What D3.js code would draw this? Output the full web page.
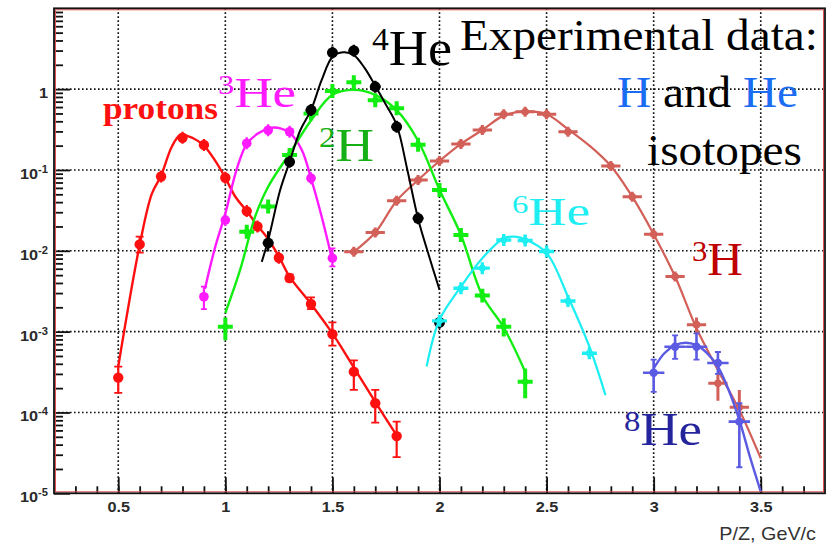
<!DOCTYPE html>
<html>
<head>
<meta charset="utf-8">
<script src="https://cdn.jsdelivr.net/npm/d3@7"></script>
<style>
  body { margin: 0; background: #fff; }
  svg { display: block; }
</style>
</head>
<body>
<svg id="chart" width="836" height="543"></svg>
<script>
// ---------------- axes ----------------
const xTicks = [0.5, 1, 1.5, 2, 2.5, 3, 3.5];
const xTickLabels = ["0.5", "1", "1.5", "2", "2.5", "3", "3.5"];
const yDecades = [1e-5, 1e-4, 1e-3, 1e-2, 1e-1, 1];
const yTickBase = ["10", "10", "10", "10", "10", "1"];
const yTickExp = ["-5", "-4", "-3", "-2", "-1", ""];
const xTitle = "P/Z, GeV/c";

// ---------------- measured points ----------------
// protons
const protonsX  = [0.5, 0.6, 0.7, 0.8, 0.9, 1.0, 1.1, 1.15, 1.25, 1.3, 1.4, 1.5, 1.6, 1.7, 1.8];
const protonsY  = [2.7e-4, 0.012, 0.083, 0.25, 0.204, 0.080, 0.031, 0.020, 0.0082, 0.0046, 0.0022, 9.3e-4, 3.2e-4, 1.3e-4, 5.1e-5];
const protonsLo = [1.75e-4, 0.0095, null, null, null, null, null, null, null, 0.0042, 1.9e-3, 6.7e-4, 1.9e-4, 7.5e-5, 2.8e-5];
const protonsHi = [3.7e-4, 0.015, null, null, null, null, null, null, null, 0.0051, 2.65e-3, 1.3e-3, 4.4e-4, 1.9e-4, 7.7e-5];
// 3He
const he3X  = [0.9, 1.0, 1.1, 1.2, 1.3, 1.4, 1.5];
const he3Y  = [0.0027, 0.024, 0.214, 0.31, 0.297, 0.079, 0.0081];
const he3Lo = [1.9e-3, null, null, null, null, null, 0.0064];
const he3Hi = [3.6e-3, null, null, null, null, null, 0.0107];
// 4He
const he4X  = [1.2, 1.3, 1.4, 1.5, 1.6, 1.7, 1.8, 1.9, 2.0];
const he4Y  = [0.0125, 0.126, 0.552, 2.83, 2.99, 1.07, 0.343, 0.0252, 0.0013];
const he4Lo = [0.0098, null, null, null, null, null, null, null, null];
const he4Hi = [0.0175, null, null, null, null, null, null, null, null];
// 2H
const h2X  = [1.0, 1.1, 1.2, 1.3, 1.4, 1.5, 1.6, 1.7, 1.8, 1.9, 2.0, 2.1, 2.2, 2.3, 2.4];
const h2Y  = [0.00115, 0.0172, 0.0352, 0.153, 0.5, 0.95, 1.22, 0.73, 0.58, 0.205, 0.0565, 0.0157, 0.0028, 0.00115, 2.4e-4];
const h2Lo = [7.8e-4, null, null, null, null, null, null, null, null, null, null, null, 0.0023, 8.7e-4, 1.5e-4];
const h2Hi = [1.5e-3, null, null, null, null, null, null, null, null, null, null, null, 0.0034, 1.46e-3, 3.5e-4];
// 3H
const h3X  = [1.6, 1.7, 1.8, 1.9, 2.0, 2.1, 2.2, 2.3, 2.4, 2.5, 2.6, 2.8, 2.9, 3.0, 3.1, 3.2, 3.3, 3.4];
const h3Y  = [0.0097, 0.0168, 0.0417, 0.075, 0.129, 0.21, 0.312, 0.49, 0.526, 0.49, 0.297, 0.112, 0.0467, 0.016, 0.0048, 0.00122, 2.3e-4, 1.16e-4];
const h3Lo = [null, null, null, null, null, null, null, null, null, null, null, null, null, null, null, 9.5e-4, 1.4e-4, 8.5e-5];
const h3Hi = [null, null, null, null, null, null, null, null, null, null, null, null, null, null, null, 1.5e-3, 3.0e-4, 1.9e-4];
// 6He
const he6X  = [2.0, 2.1, 2.2, 2.3, 2.4, 2.5, 2.6, 2.7];
const he6Y  = [0.00136, 0.00344, 0.0061, 0.0136, 0.0134, 0.0098, 0.00239, 5.4e-4];
const he6Lo = [null, null, null, null, null, null, null, null];
const he6Hi = [null, null, null, null, null, null, null, null];
// 8He
const he8X  = [3.0, 3.1, 3.2, 3.3, 3.4];
const he8Y  = [3.1e-4, 6.5e-4, 6.5e-4, 4.1e-4, 7.7e-5];
const he8Lo = [1.8e-4, 4.6e-4, 4.5e-4, 3.0e-4, 2.1e-5];
const he8Hi = [4.5e-4, 9.0e-4, 9.5e-4, 5.6e-4, 1.3e-4];

// ---------------- fitted curves ----------------
const protonsFitX = [0.5, 0.6, 0.657, 0.7, 0.75, 0.79, 0.85, 0.9, 0.95, 1.0, 1.046, 1.1, 1.15, 1.2, 1.25, 1.3, 1.4, 1.5, 1.6, 1.7, 1.8];
const protonsFitY = [3.7e-4, 0.0118, 0.051, 0.085, 0.194, 0.27, 0.247, 0.2, 0.133, 0.08, 0.047, 0.031, 0.0205, 0.014, 0.0085, 0.0048, 0.0022, 9.5e-4, 3.6e-4, 1.35e-4, 5.2e-5];
const he3FitX = [0.905, 0.95, 1.0, 1.053, 1.1, 1.15, 1.194, 1.225, 1.26, 1.3, 1.357, 1.4, 1.45, 1.5];
const he3FitY = [0.0034, 0.0105, 0.029, 0.102, 0.21, 0.28, 0.32, 0.335, 0.325, 0.29, 0.177, 0.079, 0.0264, 0.0075];
const he4FitX = [1.17, 1.2, 1.256, 1.3, 1.35, 1.4, 1.45, 1.5, 1.55, 1.6, 1.65, 1.7, 1.75, 1.8, 1.85, 1.9, 1.95, 2.0];
const he4FitY = [0.0073, 0.0135, 0.0565, 0.126, 0.31, 0.55, 1.3, 2.5, 2.85, 2.64, 1.83, 1.1, 0.64, 0.36, 0.1, 0.025, 0.0088, 0.0033];
const h2FitX = [1.0, 1.069, 1.139, 1.2, 1.3, 1.4, 1.5, 1.6, 1.7, 1.8, 1.9, 2.0, 2.1, 2.2, 2.3, 2.4];
const h2FitY = [0.0017, 0.0058, 0.0264, 0.062, 0.16, 0.41, 0.85, 0.98, 0.85, 0.55, 0.23, 0.057, 0.0157, 0.0028, 0.00112, 3.2e-4];
const h3FitX = [1.6, 1.7, 1.8, 1.9, 2.0, 2.1, 2.2, 2.3, 2.4, 2.5, 2.6, 2.7, 2.8, 2.9, 3.0, 3.1, 3.2, 3.3, 3.4, 3.5];
const h3FitY = [0.0097, 0.0168, 0.0417, 0.075, 0.129, 0.21, 0.312, 0.47, 0.53, 0.49, 0.32, 0.2, 0.112, 0.0467, 0.016, 0.0048, 0.0011, 3.35e-4, 1.07e-4, 2.7e-5];
const he6FitX = [1.94, 2.0, 2.1, 2.2, 2.3, 2.35, 2.4, 2.5, 2.6, 2.7, 2.775];
const he6FitY = [3.7e-4, 0.0014, 0.0036, 0.0081, 0.0143, 0.015, 0.0139, 0.0094, 0.0027, 6.5e-4, 1.64e-4];
const he8FitX = [3.0, 3.05, 3.1, 3.15, 3.2, 3.25, 3.3, 3.35, 3.4, 3.45, 3.5];
const he8FitY = [3.5e-4, 5.4e-4, 6.8e-4, 7.3e-4, 6.8e-4, 5.4e-4, 3.7e-4, 1.9e-4, 8.1e-5, 2.8e-5, 1.05e-5];

// momentum bin half-widths used for the horizontal bars
const xErr = { protons: 0.02, he3: 0.02, he4: 0.025, h2: 0.035, h3: 0.045, he6: 0.035, he8: 0.05 };

// ---------------- drawing ----------------
const W = 836, H = 543;
const plot = { left: 54, right: 825, top: 8.3, bottom: 493.3 };
const stretch = 1.12;   // horizontal text aspect used throughout the figure
const sans = "'Liberation Sans', Arial, sans-serif";
const serif = "'Liberation Serif', 'Times New Roman', serif";
const svg = d3.select("#chart");

const x = d3.scaleLinear().domain([0.2, 3.8]).range([plot.left, plot.right]);
const y = d3.scaleLog().domain([1e-5, 10]).range([plot.bottom, plot.top]);

svg.append("rect").attr("width", W).attr("height", H).attr("fill", "#fff");

svg.append("defs").append("clipPath").attr("id", "plotClip")
  .append("rect").attr("x", plot.left).attr("y", plot.top)
  .attr("width", plot.right - plot.left).attr("height", plot.bottom - plot.top);

// dotted grid
const grid = svg.append("g").attr("stroke", "#111").attr("stroke-width", 1.6)
  .attr("stroke-dasharray", "1.6,2.4");
grid.selectAll("line.gx").data(xTicks).join("line")
  .attr("x1", d => x(d)).attr("x2", d => x(d))
  .attr("y1", plot.top).attr("y2", plot.bottom);
grid.selectAll("line.gy").data(yDecades.filter(d => d > 1e-5)).join("line")
  .attr("y1", d => y(d)).attr("y2", d => y(d))
  .attr("x1", plot.left).attr("x2", plot.right);

// x axis: minor and major ticks pointing into the frame
const xMinor = d3.range(3, 38).map(i => i / 10);
const axMinorX = svg.append("g").attr("transform", `translate(0,${plot.bottom})`)
  .call(d3.axisBottom(x).tickValues(xMinor).tickSize(-7).tickFormat(""));
const axMajorX = svg.append("g").attr("transform", `translate(0,${plot.bottom})`)
  .call(d3.axisBottom(x).tickValues(xTicks).tickSize(-16).tickPadding(8)
    .tickFormat((d, i) => xTickLabels[i]));
[axMinorX, axMajorX].forEach(g => {
  g.select(".domain").remove();
  g.selectAll("line").attr("stroke", "#111").attr("stroke-width", 1.8);
});
axMajorX.selectAll("text")
  .attr("font-family", sans).attr("font-size", 14.5).attr("font-weight", "bold")
  .attr("fill", "#2a2a2a").attr("transform", `scale(${stretch},1)`);

// y axis: log minor ticks and decade ticks
const yMinor = [];
[-5, -4, -3, -2, -1, 0].forEach(e => d3.range(2, 10).forEach(k => yMinor.push(k * Math.pow(10, e))));
const axMinorY = svg.append("g").attr("transform", `translate(${plot.left},0)`)
  .call(d3.axisLeft(y).tickValues(yMinor).tickSize(-9).tickFormat(""));
const axMajorY = svg.append("g").attr("transform", `translate(${plot.left},0)`)
  .call(d3.axisLeft(y).tickValues(yDecades).tickSize(-16).tickFormat(""));
[axMinorY, axMajorY].forEach(g => {
  g.select(".domain").remove();
  g.selectAll("line").attr("stroke", "#111").attr("stroke-width", 1.8);
});
// decade labels with superscript exponents
yDecades.forEach((d, i) => {
  const g = svg.append("g").attr("transform", `translate(48,${y(d) + 9}) scale(${stretch},1)`);
  const t = g.append("text").attr("text-anchor", "end")
    .attr("font-family", sans).attr("font-weight", "bold")
    .attr("fill", "#2a2a2a").attr("font-size", 14.5);
  t.append("tspan").text(yTickBase[i]);
  if (yTickExp[i]) t.append("tspan").attr("font-size", 10).attr("dy", -6).text(yTickExp[i]);
});

// x axis title
svg.append("g").attr("transform", `translate(816,540) scale(1.1,1)`)
  .append("text").attr("text-anchor", "end")
  .attr("font-family", sans).attr("font-size", 18).attr("fill", "#333")
  .text(xTitle);

// ---------------- series ----------------
function zip(xs, ys, lo, hi) {
  return xs.map((v, i) => ({ x: v, y: ys[i], lo: lo ? lo[i] : null, hi: hi ? hi[i] : null }));
}
const series = [
  { key: "h3", pts: zip(h3X, h3Y, h3Lo, h3Hi), fit: zip(h3FitX, h3FitY),
    color: "#d25f58", lw: 2.2, r: 3.8, arm: 5, bw: 3, cap: 0 },
  { key: "protons", pts: zip(protonsX, protonsY, protonsLo, protonsHi), fit: zip(protonsFitX, protonsFitY),
    color: "#ff1010", lw: 2.4, r: 5.2, arm: 6, bw: 2.2, cap: 4 },
  { key: "he3", pts: zip(he3X, he3Y, he3Lo, he3Hi), fit: zip(he3FitX, he3FitY),
    color: "#ff1aff", lw: 2.4, r: 4.8, arm: 6, bw: 2.2, cap: 3 },
  { key: "h2", pts: zip(h2X, h2Y, h2Lo, h2Hi), fit: zip(h2FitX, h2FitY),
    color: "#12ee12", lw: 2.4, r: 3.2, arm: 7, bw: 4, cap: 0 },
  { key: "he4", pts: zip(he4X, he4Y, he4Lo, he4Hi), fit: zip(he4FitX, he4FitY),
    color: "#000000", lw: 2.0, r: 5.4, arm: 6, bw: 2.4, cap: 0 },
  { key: "he6", pts: zip(he6X, he6Y, he6Lo, he6Hi), fit: zip(he6FitX, he6FitY),
    color: "#1deef2", lw: 2.2, r: 3.4, arm: 6, bw: 3.4, cap: 0 },
  { key: "he8", pts: zip(he8X, he8Y, he8Lo, he8Hi), fit: zip(he8FitX, he8FitY),
    color: "#5a5ae2", lw: 2.4, r: 4.2, arm: 6, bw: 2.6, cap: 3 }
];

const line = d3.line().x(d => x(d.x)).y(d => y(d.y)).curve(d3.curveCatmullRom.alpha(0.5));
const layer = svg.append("g").attr("clip-path", "url(#plotClip)");

series.forEach(s => {
  const g = layer.append("g");
  g.append("path").datum(s.fit).attr("d", line)
    .attr("fill", "none").attr("stroke", s.color).attr("stroke-width", s.lw);
  const ex = xErr[s.key];
  const p = g.selectAll("g.pt").data(s.pts).join("g").attr("class", "pt");
  // horizontal bin bar
  p.append("line")
    .attr("x1", d => x(d.x - ex)).attr("x2", d => x(d.x + ex))
    .attr("y1", d => y(d.y)).attr("y2", d => y(d.y))
    .attr("stroke", s.color).attr("stroke-width", s.bw);
  // vertical error bar
  p.append("line")
    .attr("x1", d => x(d.x)).attr("x2", d => x(d.x))
    .attr("y1", d => d.hi != null ? y(d.hi) : y(d.y) - s.arm)
    .attr("y2", d => d.lo != null ? y(d.lo) : y(d.y) + s.arm)
    .attr("stroke", s.color).attr("stroke-width", s.bw);
  if (s.cap) {
    p.filter(d => d.hi != null).append("line")
      .attr("x1", d => x(d.x) - s.cap).attr("x2", d => x(d.x) + s.cap)
      .attr("y1", d => y(d.hi)).attr("y2", d => y(d.hi))
      .attr("stroke", s.color).attr("stroke-width", 1.8);
    p.filter(d => d.lo != null).append("line")
      .attr("x1", d => x(d.x) - s.cap).attr("x2", d => x(d.x) + s.cap)
      .attr("y1", d => y(d.lo)).attr("y2", d => y(d.lo))
      .attr("stroke", s.color).attr("stroke-width", 1.8);
  }
  p.append("circle").attr("cx", d => x(d.x)).attr("cy", d => y(d.y))
    .attr("r", s.r).attr("fill", s.color);
});

// frame: black border with thin red inner line
svg.append("rect").attr("x", plot.left + 1.5).attr("y", plot.top + 1.5)
  .attr("width", plot.right - plot.left - 3).attr("height", plot.bottom - plot.top - 3)
  .attr("fill", "none").attr("stroke", "#e05050").attr("stroke-width", 1);
svg.append("rect").attr("x", plot.left).attr("y", plot.top)
  .attr("width", plot.right - plot.left).attr("height", plot.bottom - plot.top)
  .attr("fill", "none").attr("stroke", "#111").attr("stroke-width", 1.8);

// ---------------- annotations ----------------
const labels = [
  { x: 103, y: 119, w: 115, size: 31, weight: "bold", parts: [{ t: "protons", c: "#ff1010" }] },
  { x: 218, y: 106.5, w: 78, size: 43, parts: [{ t: "3", c: "#ff1aff", sup: true }, { t: "He", c: "#ff1aff" }] },
  { x: 372, y: 65, w: 80, size: 50, parts: [{ t: "4", c: "#000", sup: true }, { t: "He", c: "#000" }] },
  { x: 319, y: 161, w: 55, size: 47, parts: [{ t: "2", c: "#15b015", sup: true }, { t: "H", c: "#15b015" }] },
  { x: 460, y: 50, w: 358, size: 44, parts: [{ t: "Experimental data:", c: "#000" }] },
  { x: 617, y: 106.7, w: 181, size: 44, parts: [{ t: "H", c: "#1a6cf2" }, { t: " and ", c: "#000" }, { t: "He", c: "#1a6cf2" }] },
  { x: 647, y: 165, w: 155, size: 44, parts: [{ t: "isotopes", c: "#000" }] },
  { x: 512, y: 225, w: 78, size: 39, parts: [{ t: "6", c: "#1deef2", sup: true }, { t: "He", c: "#1deef2" }] },
  { x: 692, y: 275, w: 51, size: 46, parts: [{ t: "3", c: "#c00000", sup: true }, { t: "H", c: "#c00000" }] },
  { x: 624, y: 445, w: 78, size: 46, parts: [{ t: "8", c: "#24249c", sup: true }, { t: "He", c: "#24249c" }] }
];

labels.forEach(L => {
  const g = svg.append("g").attr("transform", `translate(${L.x},${L.y})`);
  const t = g.append("text").attr("font-family", serif).attr("font-size", L.size)
    .attr("font-weight", L.weight || "normal").attr("xml:space", "preserve");
  let raised = false;
  L.parts.forEach(p => {
    const ts = t.append("tspan").attr("fill", p.c).text(p.t);
    if (p.sup) {
      ts.attr("font-size", L.size * 0.62).attr("dy", -L.size * 0.3);
      raised = true;
    } else if (raised) {
      ts.attr("dy", L.size * 0.3);
      raised = false;
    }
  });
  const w = t.node().getComputedTextLength();
  t.attr("transform", `scale(${L.w / w},1)`);
});
</script>
</body>
</html>
